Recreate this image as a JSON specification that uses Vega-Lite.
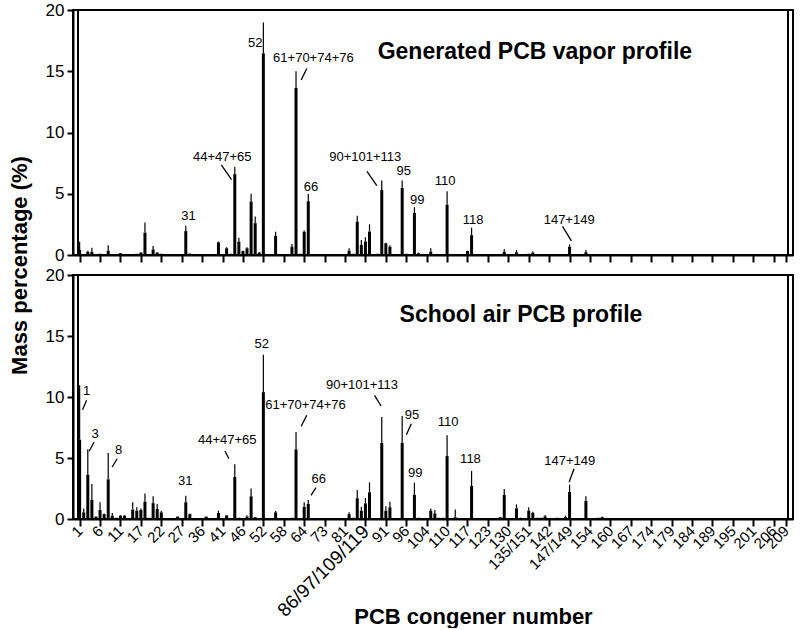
{
  "$schema": "https://vega.github.io/schema/vega-lite/v6.json",
  "padding": {"left": 7, "top": 0, "right": 4, "bottom": 0},
  "spacing": 20,
  "bounds": "flush",
  "config": {
    "font": "Liberation Sans",
    "view": {"stroke": "black", "strokeWidth": 2},
    "axis": {"domainColor": "black", "domainWidth": 2, "tickColor": "black", "tickWidth": 2, "labelColor": "black", "titleColor": "black", "grid": false}
  },
  "datasets": {
    "frame": [
      {"panel":"vapor","x0":-0.4,"x1":173.5,"y0":0,"y1":20},
      {"panel":"school","x0":-0.4,"x1":173.5,"y0":0,"y1":20}
    ],
    "bars": [
      {"panel":"vapor","idx":0,"pct":0.41,"hi":1.09},
      {"panel":"vapor","idx":2,"pct":0.27,"hi":0.35},
      {"panel":"vapor","idx":3,"pct":0.25,"hi":0.6},
      {"panel":"vapor","idx":5,"pct":0.1,"hi":0.1},
      {"panel":"vapor","idx":7,"pct":0.35,"hi":0.8},
      {"panel":"vapor","idx":10,"pct":0.15,"hi":0.15},
      {"panel":"vapor","idx":13,"pct":0.05,"hi":0.05},
      {"panel":"vapor","idx":14,"pct":0.1,"hi":0.1},
      {"panel":"vapor","idx":15,"pct":0.2,"hi":0.25},
      {"panel":"vapor","idx":16,"pct":1.83,"hi":2.65},
      {"panel":"vapor","idx":18,"pct":0.46,"hi":0.74},
      {"panel":"vapor","idx":19,"pct":0.2,"hi":0.25},
      {"panel":"vapor","idx":20,"pct":0.1,"hi":0.1},
      {"panel":"vapor","idx":26,"pct":1.95,"hi":2.39},
      {"panel":"vapor","idx":27,"pct":0.12,"hi":0.12},
      {"panel":"vapor","idx":34,"pct":1.04,"hi":1.1},
      {"panel":"vapor","idx":36,"pct":0.55,"hi":0.63},
      {"panel":"vapor","idx":37,"pct":0.1,"hi":0.1},
      {"panel":"vapor","idx":38,"pct":6.6,"hi":7.2},
      {"panel":"vapor","idx":39,"pct":1.1,"hi":1.4},
      {"panel":"vapor","idx":40,"pct":0.33,"hi":0.35},
      {"panel":"vapor","idx":41,"pct":0.55,"hi":0.63},
      {"panel":"vapor","idx":42,"pct":4.37,"hi":5.0},
      {"panel":"vapor","idx":43,"pct":2.6,"hi":3.14},
      {"panel":"vapor","idx":44,"pct":0.2,"hi":0.25},
      {"panel":"vapor","idx":45,"pct":16.46,"hi":18.97},
      {"panel":"vapor","idx":48,"pct":1.56,"hi":1.9},
      {"panel":"vapor","idx":52,"pct":0.68,"hi":0.9},
      {"panel":"vapor","idx":53,"pct":13.65,"hi":15.0},
      {"panel":"vapor","idx":54,"pct":0.1,"hi":0.1},
      {"panel":"vapor","idx":55,"pct":1.9,"hi":2.0},
      {"panel":"vapor","idx":56,"pct":4.39,"hi":4.98},
      {"panel":"vapor","idx":66,"pct":0.36,"hi":0.55},
      {"panel":"vapor","idx":67,"pct":0.1,"hi":0.1},
      {"panel":"vapor","idx":68,"pct":2.73,"hi":3.2},
      {"panel":"vapor","idx":69,"pct":0.82,"hi":1.23},
      {"panel":"vapor","idx":70,"pct":1.1,"hi":1.45},
      {"panel":"vapor","idx":71,"pct":1.91,"hi":2.51},
      {"panel":"vapor","idx":73,"pct":0.1,"hi":0.1},
      {"panel":"vapor","idx":74,"pct":5.31,"hi":6.08},
      {"panel":"vapor","idx":75,"pct":0.96,"hi":1.0},
      {"panel":"vapor","idx":76,"pct":0.68,"hi":0.8},
      {"panel":"vapor","idx":77,"pct":0.05,"hi":0.05},
      {"panel":"vapor","idx":79,"pct":5.48,"hi":6.08},
      {"panel":"vapor","idx":80,"pct":0.1,"hi":0.1},
      {"panel":"vapor","idx":82,"pct":3.43,"hi":3.9},
      {"panel":"vapor","idx":83,"pct":0.14,"hi":0.2},
      {"panel":"vapor","idx":86,"pct":0.27,"hi":0.55},
      {"panel":"vapor","idx":88,"pct":0.05,"hi":0.05},
      {"panel":"vapor","idx":89,"pct":0.05,"hi":0.05},
      {"panel":"vapor","idx":90,"pct":4.11,"hi":5.2},
      {"panel":"vapor","idx":95,"pct":0.33,"hi":0.35},
      {"panel":"vapor","idx":96,"pct":1.62,"hi":2.23},
      {"panel":"vapor","idx":104,"pct":0.27,"hi":0.5},
      {"panel":"vapor","idx":107,"pct":0.22,"hi":0.4},
      {"panel":"vapor","idx":110,"pct":0.1,"hi":0.1},
      {"panel":"vapor","idx":111,"pct":0.2,"hi":0.3},
      {"panel":"vapor","idx":114,"pct":0.05,"hi":0.05},
      {"panel":"vapor","idx":120,"pct":0.68,"hi":0.87},
      {"panel":"vapor","idx":124,"pct":0.22,"hi":0.4},
      {"panel":"school","idx":0,"pct":6.5,"hi":10.96},
      {"panel":"school","idx":1,"pct":0.55,"hi":0.87},
      {"panel":"school","idx":2,"pct":3.63,"hi":5.71},
      {"panel":"school","idx":3,"pct":1.58,"hi":2.87},
      {"panel":"school","idx":4,"pct":0.2,"hi":0.2},
      {"panel":"school","idx":5,"pct":0.74,"hi":1.37},
      {"panel":"school","idx":6,"pct":0.4,"hi":0.45},
      {"panel":"school","idx":7,"pct":3.25,"hi":5.41},
      {"panel":"school","idx":8,"pct":0.27,"hi":0.5},
      {"panel":"school","idx":9,"pct":0.1,"hi":0.1},
      {"panel":"school","idx":10,"pct":0.27,"hi":0.33},
      {"panel":"school","idx":11,"pct":0.27,"hi":0.33},
      {"panel":"school","idx":13,"pct":0.77,"hi":1.37},
      {"panel":"school","idx":14,"pct":0.68,"hi":0.96},
      {"panel":"school","idx":15,"pct":0.74,"hi":0.87},
      {"panel":"school","idx":16,"pct":1.42,"hi":2.1},
      {"panel":"school","idx":17,"pct":0.1,"hi":0.1},
      {"panel":"school","idx":18,"pct":1.3,"hi":1.86},
      {"panel":"school","idx":19,"pct":0.82,"hi":1.23},
      {"panel":"school","idx":20,"pct":0.55,"hi":0.68},
      {"panel":"school","idx":23,"pct":0.05,"hi":0.05},
      {"panel":"school","idx":24,"pct":0.2,"hi":0.2},
      {"panel":"school","idx":26,"pct":1.37,"hi":1.91},
      {"panel":"school","idx":27,"pct":0.4,"hi":0.45},
      {"panel":"school","idx":31,"pct":0.2,"hi":0.2},
      {"panel":"school","idx":34,"pct":0.5,"hi":0.68},
      {"panel":"school","idx":36,"pct":0.3,"hi":0.3},
      {"panel":"school","idx":38,"pct":3.44,"hi":4.48},
      {"panel":"school","idx":39,"pct":0.1,"hi":0.1},
      {"panel":"school","idx":41,"pct":0.2,"hi":0.3},
      {"panel":"school","idx":42,"pct":1.86,"hi":2.5},
      {"panel":"school","idx":43,"pct":0.15,"hi":0.15},
      {"panel":"school","idx":45,"pct":10.4,"hi":13.47},
      {"panel":"school","idx":48,"pct":0.55,"hi":0.66},
      {"panel":"school","idx":52,"pct":0.1,"hi":0.1},
      {"panel":"school","idx":53,"pct":5.71,"hi":7.13},
      {"panel":"school","idx":55,"pct":1.0,"hi":1.37},
      {"panel":"school","idx":56,"pct":1.23,"hi":1.56},
      {"panel":"school","idx":66,"pct":0.4,"hi":0.55},
      {"panel":"school","idx":67,"pct":0.1,"hi":0.1},
      {"panel":"school","idx":68,"pct":1.7,"hi":2.38},
      {"panel":"school","idx":69,"pct":0.68,"hi":1.0},
      {"panel":"school","idx":70,"pct":1.28,"hi":1.72},
      {"panel":"school","idx":71,"pct":2.19,"hi":3.0},
      {"panel":"school","idx":74,"pct":6.23,"hi":8.36},
      {"panel":"school","idx":75,"pct":0.68,"hi":1.04},
      {"panel":"school","idx":76,"pct":0.96,"hi":1.42},
      {"panel":"school","idx":79,"pct":6.23,"hi":8.44},
      {"panel":"school","idx":82,"pct":1.99,"hi":2.98},
      {"panel":"school","idx":83,"pct":0.1,"hi":0.1},
      {"panel":"school","idx":86,"pct":0.68,"hi":0.87},
      {"panel":"school","idx":87,"pct":0.46,"hi":0.74},
      {"panel":"school","idx":88,"pct":0.1,"hi":0.1},
      {"panel":"school","idx":89,"pct":0.1,"hi":0.1},
      {"panel":"school","idx":90,"pct":5.16,"hi":6.86},
      {"panel":"school","idx":92,"pct":0.14,"hi":0.77},
      {"panel":"school","idx":95,"pct":0.05,"hi":0.05},
      {"panel":"school","idx":96,"pct":2.7,"hi":3.93},
      {"panel":"school","idx":103,"pct":0.15,"hi":0.15},
      {"panel":"school","idx":104,"pct":1.97,"hi":2.46},
      {"panel":"school","idx":105,"pct":0.05,"hi":0.05},
      {"panel":"school","idx":107,"pct":0.87,"hi":1.2},
      {"panel":"school","idx":108,"pct":0.1,"hi":0.1},
      {"panel":"school","idx":110,"pct":0.68,"hi":0.96},
      {"panel":"school","idx":111,"pct":0.5,"hi":0.6},
      {"panel":"school","idx":112,"pct":0.1,"hi":0.1},
      {"panel":"school","idx":113,"pct":0.1,"hi":0.1},
      {"panel":"school","idx":114,"pct":0.22,"hi":0.33},
      {"panel":"school","idx":117,"pct":0.1,"hi":0.1},
      {"panel":"school","idx":119,"pct":0.15,"hi":0.27},
      {"panel":"school","idx":120,"pct":2.21,"hi":2.81},
      {"panel":"school","idx":124,"pct":1.5,"hi":1.86},
      {"panel":"school","idx":127,"pct":0.1,"hi":0.1},
      {"panel":"school","idx":128,"pct":0.15,"hi":0.2},
      {"panel":"school","idx":133,"pct":0.05,"hi":0.05},
      {"panel":"school","idx":145,"pct":0.03,"hi":0.03},
      {"panel":"school","idx":153,"pct":0.03,"hi":0.03}
    ],
    "notes": [
      {"panel":"vapor","x":43.0,"y":17.28,"label":"52"},
      {"panel":"vapor","x":57.26,"y":16.05,"label":"61+70+74+76"},
      {"panel":"vapor","x":56.68,"y":5.59,"label":"66"},
      {"panel":"vapor","x":34.94,"y":7.97,"label":"44+47+65"},
      {"panel":"vapor","x":26.65,"y":3.21,"label":"31"},
      {"panel":"vapor","x":69.96,"y":7.97,"label":"90+101+113"},
      {"panel":"vapor","x":79.38,"y":6.84,"label":"95"},
      {"panel":"vapor","x":82.69,"y":4.49,"label":"99"},
      {"panel":"vapor","x":89.53,"y":6.02,"label":"110"},
      {"panel":"vapor","x":96.39,"y":2.89,"label":"118"},
      {"panel":"vapor","x":119.9,"y":2.89,"label":"147+149"},
      {"panel":"school","x":1.7,"y":10.47,"label":"1"},
      {"panel":"school","x":3.78,"y":6.94,"label":"3"},
      {"panel":"school","x":9.57,"y":5.63,"label":"8"},
      {"panel":"school","x":25.85,"y":3.11,"label":"31"},
      {"panel":"school","x":36.15,"y":6.45,"label":"44+47+65"},
      {"panel":"school","x":44.6,"y":14.37,"label":"52"},
      {"panel":"school","x":55.32,"y":9.32,"label":"61+70+74+76"},
      {"panel":"school","x":58.54,"y":3.25,"label":"66"},
      {"panel":"school","x":69.16,"y":11.01,"label":"90+101+113"},
      {"panel":"school","x":81.41,"y":8.55,"label":"95"},
      {"panel":"school","x":82.21,"y":3.77,"label":"99"},
      {"panel":"school","x":90.25,"y":7.95,"label":"110"},
      {"panel":"school","x":95.73,"y":4.89,"label":"118"},
      {"panel":"school","x":120.06,"y":4.73,"label":"147+149"}
    ],
    "leaders": [
      {"panel":"vapor","x1":55.64,"x2":54.26,"y1":15.23,"y2":14.28},
      {"panel":"vapor","x1":34.7,"x2":37.21,"y1":7.36,"y2":6.16},
      {"panel":"vapor","x1":70.37,"x2":72.79,"y1":6.82,"y2":5.67},
      {"panel":"vapor","x1":118.27,"x2":120.44,"y1":2.34,"y2":1.16},
      {"panel":"school","x1":1.7,"x2":0.73,"y1":9.73,"y2":8.96},
      {"panel":"school","x1":3.54,"x2":2.33,"y1":6.31,"y2":5.55},
      {"panel":"school","x1":9.19,"x2":7.98,"y1":4.94,"y2":4.26},
      {"panel":"school","x1":35.59,"x2":36.56,"y1":5.57,"y2":4.94},
      {"panel":"school","x1":55.64,"x2":54.26,"y1":8.5,"y2":7.6},
      {"panel":"school","x1":57.88,"x2":56.68,"y1":2.57,"y2":1.94},
      {"panel":"school","x1":72.23,"x2":73.83,"y1":10.14,"y2":9.26},
      {"panel":"school","x1":81.24,"x2":80.03,"y1":7.81,"y2":6.91},
      {"panel":"school","x1":121.1,"x2":119.9,"y1":4.12,"y2":3.03}
    ],
    "titles": [
      {"panel":"vapor","x":111.5,"y":16.6,"label":"Generated PCB vapor profile"},
      {"panel":"school","x":108.1,"y":16.75,"label":"School air PCB profile"}
    ]
  },
  "vconcat": [
    {
      "width": 720,
      "height": 245,
      "layer": [
        {
          "data": {"name": "bars"},
          "transform": [{"filter": "datum.panel == 'vapor'"}],
          "mark": {"type": "bar", "size": 3, "color": "black"},
          "encoding": {
            "x": {"field": "idx", "type": "quantitative",
                  "scale": {"domain": [-0.4, 173.5], "nice": false, "zero": false},
                  "axis": {"title": null, "labels": false, "tickSize": 7, "tickCount": 100, "values": [0,5,10,15,20,25,30,35,40,45,50,55,60,65,70,75,80,85,90,95,100,105,110,115,120,125,130,135,140,145,150,155,160,165,170,173]}},
            "y": {"field": "pct", "type": "quantitative",
                  "scale": {"domain": [0, 20], "nice": false},
                  "axis": {"title": "Mass percentage (%)", "titleFontSize": 22, "titleFontWeight": "bold", "titleX": -54, "titleY": 255, "titleBaseline": "middle", "titleAngle": -90, "values": [0,5,10,15,20], "labelFontSize": 17, "tickSize": 6, "labelPadding": 3}}
          }
        },
        {
          "data": {"name": "bars"},
          "transform": [{"filter": "datum.panel == 'vapor'"}],
          "mark": {"type": "rule", "strokeWidth": 1.2, "color": "black"},
          "encoding": {
            "x": {"field": "idx", "type": "quantitative"},
            "y": {"field": "pct", "type": "quantitative"},
            "y2": {"field": "hi"}
          }
        },
        {
          "data": {"name": "leaders"},
          "transform": [{"filter": "datum.panel == 'vapor'"}],
          "mark": {"type": "rule", "strokeWidth": 1.3, "color": "black"},
          "encoding": {
            "x": {"field": "x1", "type": "quantitative"},
            "x2": {"field": "x2"},
            "y": {"field": "y1", "type": "quantitative"},
            "y2": {"field": "y2"}
          }
        },
        {
          "data": {"name": "notes"},
          "transform": [{"filter": "datum.panel == 'vapor'"}],
          "mark": {"type": "text", "fontSize": 13, "align": "center", "baseline": "middle", "color": "black"},
          "encoding": {
            "x": {"field": "x", "type": "quantitative"},
            "y": {"field": "y", "type": "quantitative"},
            "text": {"field": "label"}
          }
        },
        {
          "data": {"name": "titles"},
          "transform": [{"filter": "datum.panel == 'vapor'"}],
          "mark": {"type": "text", "fontSize": 23, "fontWeight": "bold", "align": "center", "baseline": "middle", "color": "black"},
          "encoding": {
            "x": {"field": "x", "type": "quantitative"},
            "y": {"field": "y", "type": "quantitative"},
            "text": {"field": "label"}
          }
        },
        {
          "data": {"name": "frame"},
          "transform": [{"filter": "datum.panel == 'vapor'"}],
          "mark": {"type": "rect", "fillOpacity": 0, "stroke": "black", "strokeWidth": 2},
          "encoding": {
            "x": {"field": "x0", "type": "quantitative"},
            "x2": {"field": "x1"},
            "y": {"field": "y0", "type": "quantitative"},
            "y2": {"field": "y1"}
          }
        }
      ]
    },
    {
      "width": 720,
      "height": 244,
      "layer": [
        {
          "data": {"name": "bars"},
          "transform": [{"filter": "datum.panel == 'school'"}],
          "mark": {"type": "bar", "size": 3, "color": "black"},
          "encoding": {
            "x": {"field": "idx", "type": "quantitative",
                  "scale": {"domain": [-0.4, 173.5], "nice": false, "zero": false},
                  "axis": {"title": "PCB congener number", "titleFontSize": 22, "titleFontWeight": "bold", "titleX": 400, "titleY": 97, "titleBaseline": "middle",
                           "tickSize": 7, "tickCount": 100, "labelAngle": -45, "labelAlign": "right", "labelBaseline": "middle", "labelPadding": 2, "labelOverlap": false, "labelBound": false,
                           "labelFontSize": {"condition": {"test": "datum.value == 70", "value": 19}, "value": 15},
                           "values": [0,5,10,15,20,25,30,35,40,45,50,55,60,65,70,75,80,85,90,95,100,105,110,115,120,125,130,135,140,145,150,155,160,165,170,173],
                           "labelExpr": "datum.value == 173 ? '209' : ['1','6','11','17','22','27','36','41','46','52','58','64','73','81','86/97/109/119','91','96','104','110','117','123','130','135/151','142','147/149','154','160','167','174','179','184','189','195','201','206'][round(datum.value / 5)]"}},
            "y": {"field": "pct", "type": "quantitative",
                  "scale": {"domain": [0, 20], "nice": false},
                  "axis": {"title": null, "values": [0,5,10,15,20], "labelFontSize": 17, "tickSize": 6, "labelPadding": 3}}
          }
        },
        {
          "data": {"name": "bars"},
          "transform": [{"filter": "datum.panel == 'school'"}],
          "mark": {"type": "rule", "strokeWidth": 1.2, "color": "black"},
          "encoding": {
            "x": {"field": "idx", "type": "quantitative"},
            "y": {"field": "pct", "type": "quantitative"},
            "y2": {"field": "hi"}
          }
        },
        {
          "data": {"name": "leaders"},
          "transform": [{"filter": "datum.panel == 'school'"}],
          "mark": {"type": "rule", "strokeWidth": 1.3, "color": "black"},
          "encoding": {
            "x": {"field": "x1", "type": "quantitative"},
            "x2": {"field": "x2"},
            "y": {"field": "y1", "type": "quantitative"},
            "y2": {"field": "y2"}
          }
        },
        {
          "data": {"name": "notes"},
          "transform": [{"filter": "datum.panel == 'school'"}],
          "mark": {"type": "text", "fontSize": 13, "align": "center", "baseline": "middle", "color": "black"},
          "encoding": {
            "x": {"field": "x", "type": "quantitative"},
            "y": {"field": "y", "type": "quantitative"},
            "text": {"field": "label"}
          }
        },
        {
          "data": {"name": "titles"},
          "transform": [{"filter": "datum.panel == 'school'"}],
          "mark": {"type": "text", "fontSize": 23, "fontWeight": "bold", "align": "center", "baseline": "middle", "color": "black"},
          "encoding": {
            "x": {"field": "x", "type": "quantitative"},
            "y": {"field": "y", "type": "quantitative"},
            "text": {"field": "label"}
          }
        },
        {
          "data": {"name": "frame"},
          "transform": [{"filter": "datum.panel == 'school'"}],
          "mark": {"type": "rect", "fillOpacity": 0, "stroke": "black", "strokeWidth": 2},
          "encoding": {
            "x": {"field": "x0", "type": "quantitative"},
            "x2": {"field": "x1"},
            "y": {"field": "y0", "type": "quantitative"},
            "y2": {"field": "y1"}
          }
        }
      ]
    }
  ]
}
